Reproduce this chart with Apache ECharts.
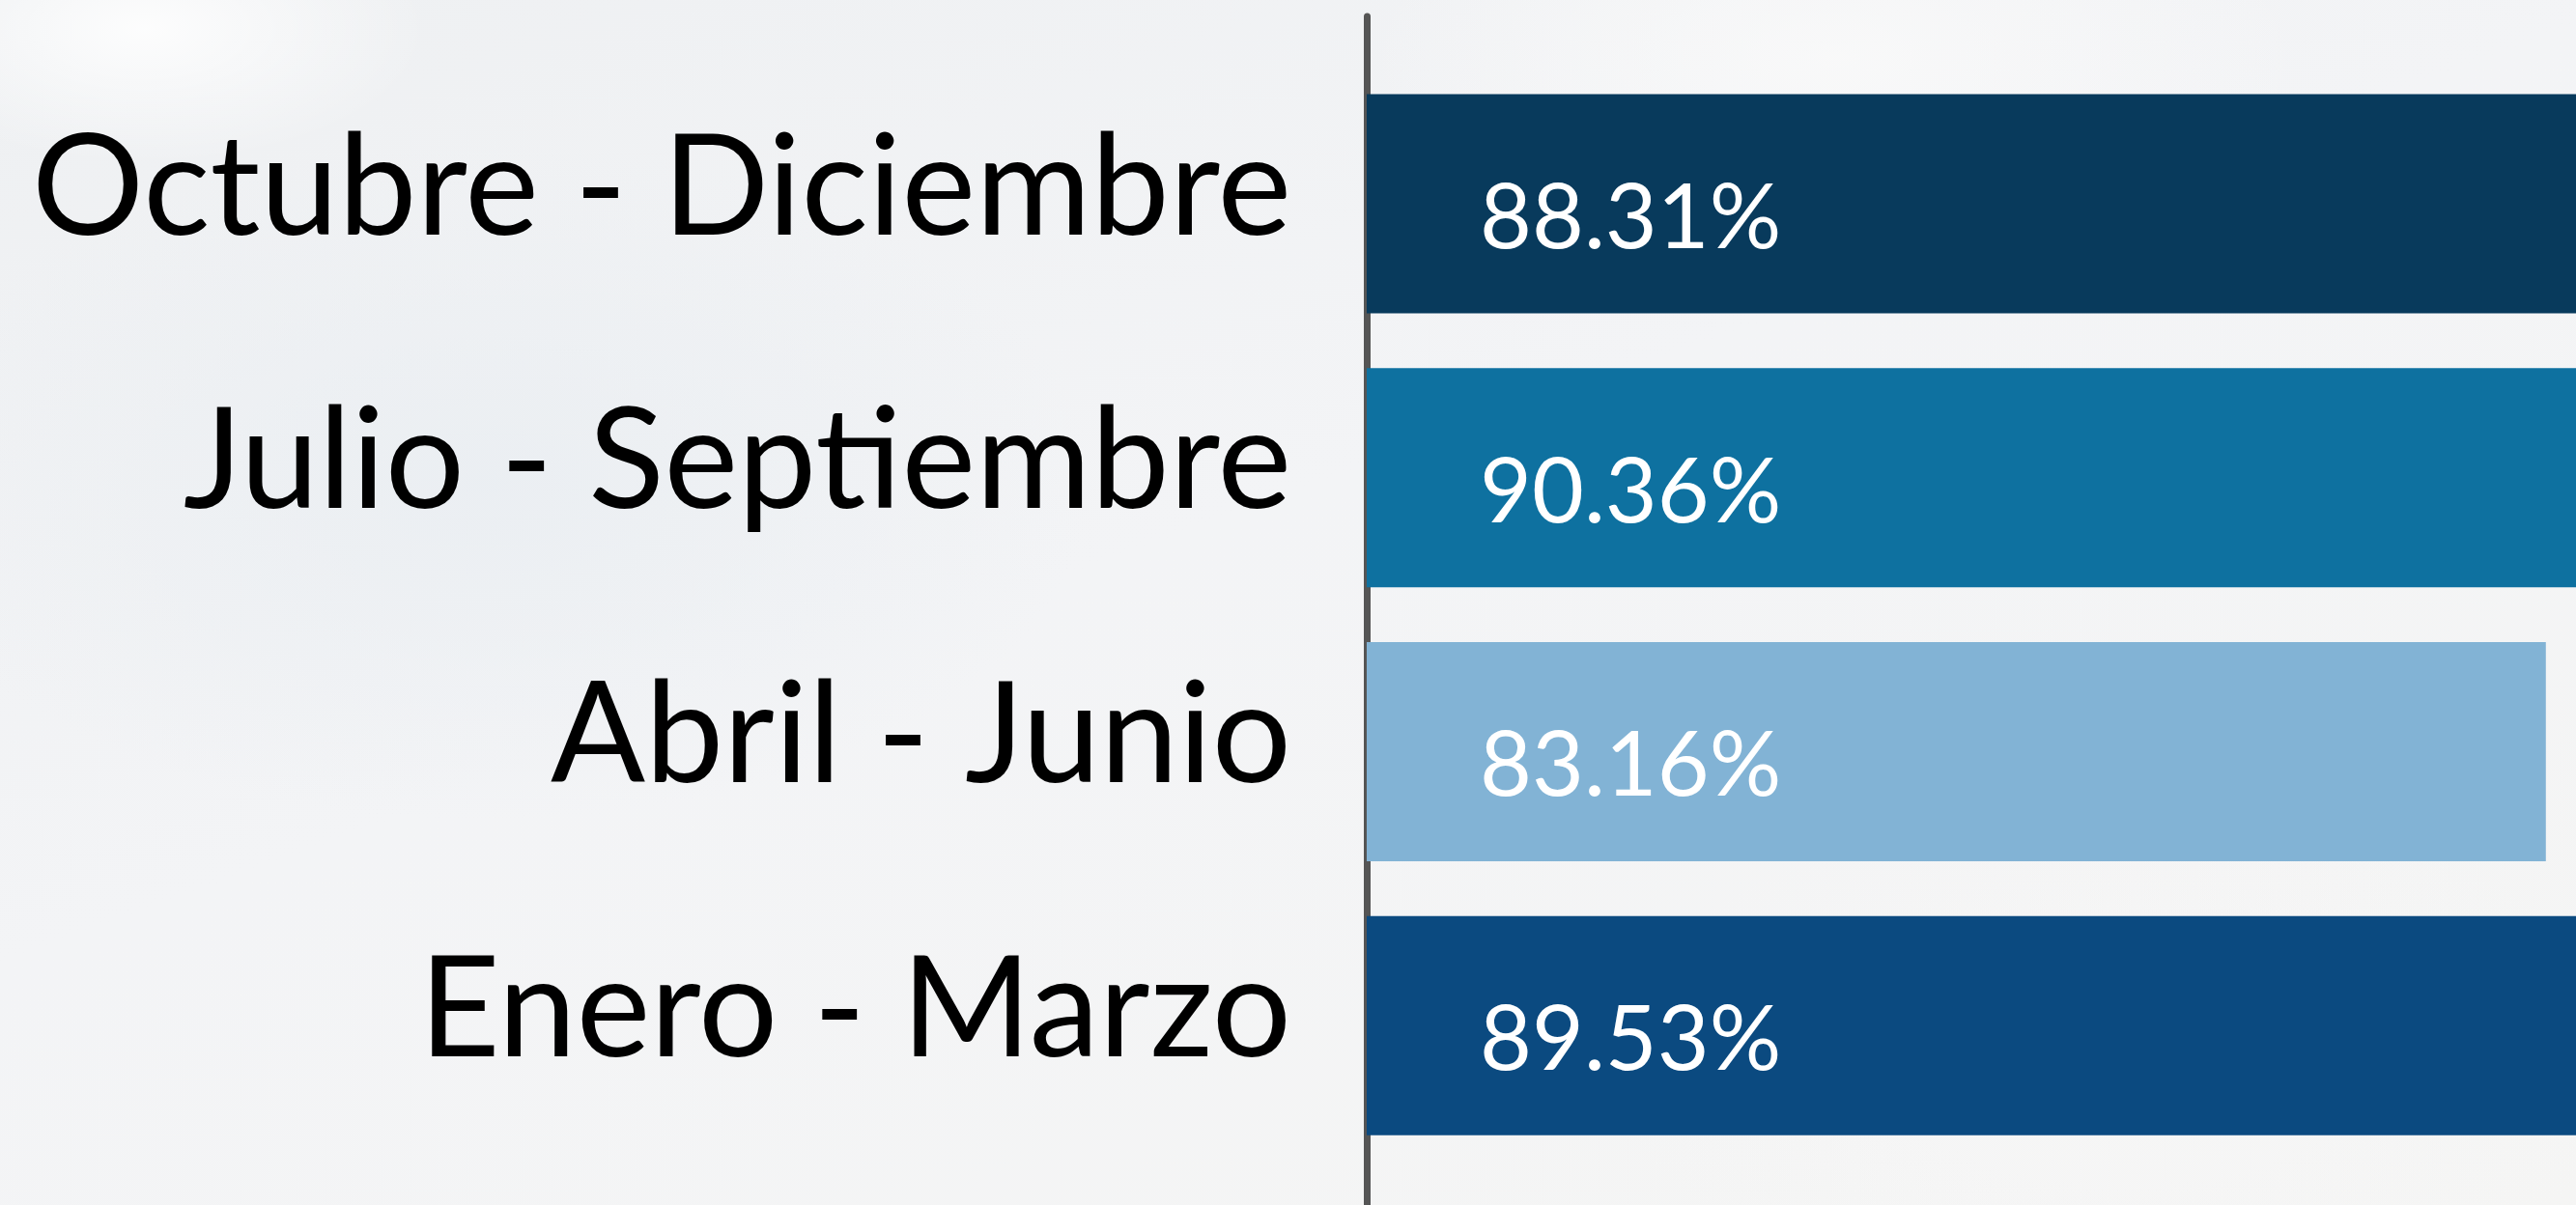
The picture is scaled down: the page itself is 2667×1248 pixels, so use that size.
<!DOCTYPE html>
<html lang="es">
<head>
<meta charset="utf-8">
<title>Porcentaje por trimestre</title>
<script src="https://cdn.jsdelivr.net/npm/echarts@6/dist/echarts.min.js"></script>
<style>
  html, body {
    margin: 0;
    padding: 0;
    width: 2667px;
    height: 1248px;
    overflow: hidden;
    background:
      radial-gradient(ellipse 420px 200px at 150px 30px, rgba(255,255,255,0.85), rgba(255,255,255,0) 70%),
      radial-gradient(ellipse 700px 300px at 1900px 60px, rgba(250,250,250,0.8), rgba(250,250,250,0) 70%),
      radial-gradient(ellipse 900px 500px at 500px 500px, rgba(234,238,242,0.9), rgba(234,238,242,0) 70%),
      radial-gradient(ellipse 800px 400px at 2200px 1100px, rgba(246,246,246,0.9), rgba(246,246,246,0) 70%),
      linear-gradient(160deg, #eef0f2 0%, #f3f4f6 45%, #f5f5f4 100%);
  }
  #chart {
    width: 2900px;
    height: 1248px;
  }
</style>
</head>
<body>
<div id="chart"></div>
<script>
// Quarters, listed from the bottom of the axis upwards
const quarters = ['Enero - Marzo', 'Abril - Junio', 'Julio - Septiembre', 'Octubre - Diciembre'];
// Percentage for each quarter
const percentages = [89.53, 83.16, 90.36, 88.31];
// Fill colour of each quarter's bar
const barColors = ['#0b4a80', '#82b3d5', '#0e71a0', '#083a5c'];

const chart = echarts.init(document.getElementById('chart'), null, { renderer: 'canvas' });

const labelFont = 'Lato, "Noto Sans", "DejaVu Sans", sans-serif';

chart.setOption({
  backgroundColor: 'transparent',
  animation: false,
  grid: [
    { left: 1415, right: 17, top: 69, bottom: 44, outerBoundsMode: 'none', containLabel: false },
    // full-height strip carrying the vertical baseline
    { left: 1415, width: 10, top: 17, bottom: 0, outerBoundsMode: 'none', containLabel: false }
  ],
  xAxis: [
    { type: 'value', gridIndex: 0, min: 0, max: 100, show: false },
    { type: 'value', gridIndex: 1, min: 0, max: 1, show: false }
  ],
  yAxis: [
    {
      type: 'category',
      gridIndex: 0,
      data: quarters,
      axisLine: { show: false },
      axisTick: { show: false },
      splitLine: { show: false },
      axisLabel: {
        margin: 78,
        verticalAlign: 'middle',
        formatter: (name) => '{q|' + name + '}',
        rich: {
          q: {
            color: '#000000',
            fontFamily: labelFont,
            fontSize: 145,
            fontWeight: 'normal',
            padding: [0, 0, 30, 0]
          }
        }
      }
    },
    {
      type: 'value',
      gridIndex: 1,
      position: 'left',
      axisLine: { show: true, onZero: false, lineStyle: { color: '#555555', width: 7 } },
      axisTick: { show: false },
      axisLabel: { show: false },
      splitLine: { show: false }
    }
  ],
  series: [
    {
      type: 'bar',
      xAxisIndex: 0,
      yAxisIndex: 0,
      barCategoryGap: '20%',
      data: percentages.map((v, i) => ({ value: v, itemStyle: { color: barColors[i] } })),
      label: {
        show: true,
        position: 'insideLeft',
        distance: 117,
        formatter: '{c}%',
        color: '#ffffff',
        fontFamily: labelFont,
        fontSize: 93,
        offset: [0, 16]
      }
    }
  ]
});
</script>
</body>
</html>
